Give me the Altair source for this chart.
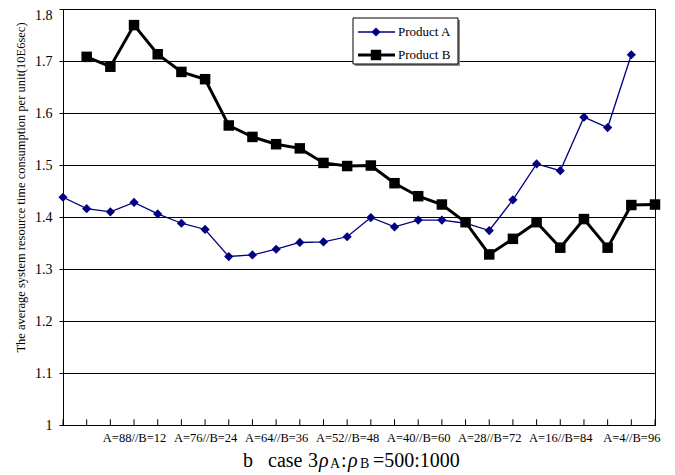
import altair as alt
import pandas as pd

# ---- data ----
idx_a = list(range(0, 25))
prod_a = [1.438, 1.416, 1.410, 1.428, 1.406, 1.388, 1.376, 1.324, 1.327, 1.338,
          1.351, 1.352, 1.362, 1.399, 1.381, 1.394, 1.394, 1.388, 1.374, 1.433,
          1.502, 1.489, 1.592, 1.572, 1.712]
idx_b = list(range(1, 26))
prod_b = [1.708, 1.689, 1.769, 1.713, 1.679, 1.665, 1.576, 1.554, 1.540, 1.532,
          1.504, 1.498, 1.499, 1.465, 1.440, 1.424, 1.390, 1.328, 1.358, 1.390,
          1.341, 1.396, 1.341, 1.423, 1.424]
tick_positions = [3, 6, 9, 12, 15, 18, 21, 24]
tick_labels = ["A=88//B=12", "A=76//B=24", "A=64//B=36", "A=52//B=48",
               "A=40//B=60", "A=28//B=72", "A=16//B=84", "A=4//B=96"]
all_ticks = list(range(0, 26))
y_ticks = [1.0, 1.1, 1.2, 1.3, 1.4, 1.5, 1.6, 1.7, 1.8]
y_title = "The average system resource time consumption per unit(10E6sec)"

FONT = "Liberation Serif"
NAVY = "#000080"

df_a = pd.DataFrame({"i": idx_a, "v": prod_a})
df_b = pd.DataFrame({"i": idx_b, "v": prod_b})
df_t = pd.DataFrame({"i": all_ticks})
one = pd.DataFrame({"k": [0]})

label_list = [""] * 26
for p, l in zip(tick_positions, tick_labels):
    label_list[p] = l
label_expr = "[" + ",".join("'" + s + "'" for s in label_list) + "][datum.value]"

xscale = alt.Scale(domain=[0, 25], nice=False, zero=False)
yscale = alt.Scale(domain=[1.0, 1.8], nice=False, zero=False)

xaxis = alt.Axis(values=tick_positions, labelExpr=label_expr, ticks=False, tickSize=0,
                 grid=False, domain=True, domainColor="black", title=None,
                 labelFont=FONT, labelFontSize=12.5, labelColor="black",
                 labelPadding=6, labelOverlap=False, labelFlush=False)
yaxis = alt.Axis(values=y_ticks, format=".1~f", grid=True, gridColor="black",
                 gridWidth=1, domain=True, domainColor="black", ticks=True,
                 tickColor="black", tickSize=4, labelPadding=7,
                 labelFont=FONT, labelFontSize=14, labelColor="black",
                 labelOffset=alt.condition("datum.value >= 1.79", alt.value(6), alt.value(0)),
                 title=y_title, titleFont=FONT, titleFontSize=12.5,
                 titleFontWeight="normal", titleColor="black",
                 titleX=-43, titleY=178, titleAngle=270,
                 titleAlign="center", titleBaseline="middle")

base_a = alt.Chart(df_a).encode(
    x=alt.X("i:Q", scale=xscale, axis=xaxis),
    y=alt.Y("v:Q", scale=yscale, axis=yaxis),
)
line_a = base_a.mark_line(color=NAVY, strokeWidth=1.3)
pts_a = base_a.mark_point(shape="diamond", filled=True, size=85, color=NAVY, opacity=1)

base_b = alt.Chart(df_b).encode(
    x=alt.X("i:Q", scale=xscale),
    y=alt.Y("v:Q", scale=yscale),
)
line_b = base_b.mark_line(color="black", strokeWidth=3)
pts_b = base_b.mark_point(shape="square", filled=True, size=110, color="black", opacity=1)

ticks = alt.Chart(df_t).mark_rule(color="black", strokeWidth=1).encode(
    x=alt.X("i:Q", scale=xscale),
    y=alt.Y(datum=1.0, scale=yscale),
    y2=alt.Y2(datum=1.011),
)

# ---- legend (drawn inside the plot) ----
lg = alt.Chart(one)
shadow = lg.mark_rect(fill="#888888").encode(
    x=alt.value(292), x2=alt.value(397), y=alt.value(11), y2=alt.value(57))
box = lg.mark_rect(fill="white", stroke="black", strokeWidth=1).encode(
    x=alt.value(290), x2=alt.value(395), y=alt.value(9), y2=alt.value(55))
lg_line_a = lg.mark_rule(color=NAVY, strokeWidth=1.3).encode(
    x=alt.value(295), x2=alt.value(332), y=alt.value(23))
lg_pt_a = lg.mark_point(shape="diamond", filled=True, size=85, color=NAVY, opacity=1).encode(
    x=alt.value(313), y=alt.value(23))
lg_tx_a = lg.mark_text(text="Product A", font=FONT, fontSize=13, align="left",
                       baseline="middle", color="black").encode(
    x=alt.value(335), y=alt.value(23))
lg_line_b = lg.mark_rule(color="black", strokeWidth=3).encode(
    x=alt.value(295), x2=alt.value(332), y=alt.value(46))
lg_pt_b = lg.mark_point(shape="square", filled=True, size=110, color="black", opacity=1).encode(
    x=alt.value(313), y=alt.value(46))
lg_tx_b = lg.mark_text(text="Product B", font=FONT, fontSize=13, align="left",
                       baseline="middle", color="black").encode(
    x=alt.value(335), y=alt.value(46))

# ---- caption with subscripts ----
cap_y = 458
def cap(txt, x, size=20, dy=0, style="normal"):
    return lg.mark_text(text=txt, font=FONT, fontSize=size, align="left",
                        baseline="alphabetic", color="black", fontStyle=style).encode(
        x=alt.value(x), y=alt.value(cap_y + dy))

caption = [
    cap("b", 180),
    cap("case", 205),
    cap("3", 245),
    cap("ρ", 256, style="italic"),
    cap("A", 267, size=14, dy=1),
    cap(":", 278),
    cap("ρ", 285, style="italic"),
    cap("B", 297, size=14, dy=1),
    cap("=500:1000", 310),
]

chart = alt.layer(
    ticks, line_a, pts_a, line_b, pts_b,
    shadow, box, lg_line_a, lg_pt_a, lg_tx_a, lg_line_b, lg_pt_b, lg_tx_b,
    *caption
).properties(
    width=592, height=416,
    autosize=alt.AutoSizeParams(type="none"),
    padding={"left": 55, "top": 1, "right": 12, "bottom": 55},
    background="white",
).configure_view(stroke="black", strokeWidth=1)

chart.save("out.html", embed_options={"renderer": "svg", "actions": False})
